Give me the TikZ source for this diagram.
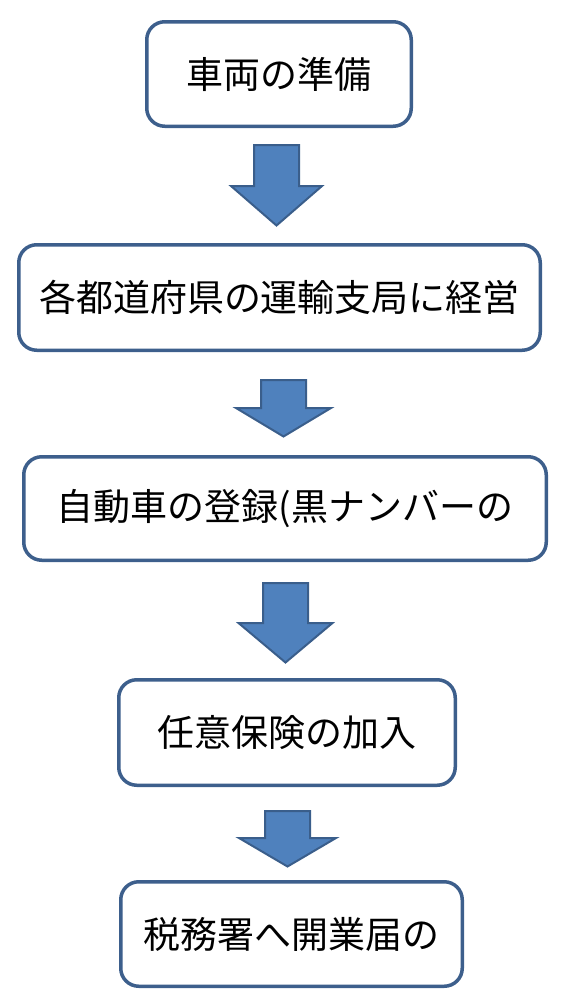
\documentclass[tikz,border=0pt]{standalone}
\usepackage{fontspec}
\setmainfont{Noto Sans CJK JP}
\usetikzlibrary{calc}

\definecolor{boxline}{RGB}{61,95,140}
\definecolor{arrowfill}{RGB}{79,129,189}
\definecolor{arrowline}{RGB}{58,94,139}

% block arrow between two steps:
% #1 upper node, #2 lower node, #3 x shift, #4 gap below #1, #5 gap above #2,
% #6 head length, #7 head half width
\newcommand{\flowarrow}[7]{%
  \draw[blockarrow] let \p1=($(#1.south)+(#3,#4)$), \p2=($(#2.north)+(#3,-#5)$) in
    (\x1-22.5pt,\y1) -- (\x1+22.5pt,\y1) -- (\x1+22.5pt,\y2+#6pt)
    -- (\x1+#7pt,\y2+#6pt) -- (\x1,\y2) -- (\x1-#7pt,\y2+#6pt)
    -- (\x1-22.5pt,\y2+#6pt) -- cycle;}

\begin{document}
\begin{tikzpicture}[
  x=1pt, y=-1pt,
  font=\fontsize{37}{43}\selectfont,
  stepbox/.style={rectangle, rounded corners=18pt, draw=boxline, line width=3.5pt,
                  fill=white, inner sep=0pt, align=center},
  blockarrow/.style={fill=arrowfill, draw=arrowline, line width=2pt, line join=miter},
]
\useasboundingbox (0,0) rectangle (562,1002);

% the five steps, top to bottom
\node[stepbox, minimum width=264.5pt, minimum height=104.5pt] (car)     at (279,74)     {車両の準備};
\node[stepbox, minimum width=521.5pt, minimum height=105.5pt] (office)  at (279.5,297.5) {各都道府県の運輸支局に経営};
\node[stepbox, minimum width=522.5pt, minimum height=103.5pt] (regist)  at (285,508.5)  {自動車の登録(黒ナンバーの};
\node[stepbox, minimum width=336.5pt, minimum height=105.5pt] (insure)  at (287,732.5)  {任意保険の加入};
\node[stepbox, minimum width=341.5pt, minimum height=104.5pt] (tax)     at (291.5,934)  {税務署へ開業届の};

% block arrows
\flowarrow{car}{office}{-2.5}{17}{17.5}{39.5}{45.5}
\flowarrow{office}{regist}{4}{28}{18.5}{28.5}{47.5}
\flowarrow{regist}{insure}{0.5}{21}{15.5}{39.5}{47}
\flowarrow{insure}{tax}{0.5}{24}{13.5}{28.5}{48.5}

\end{tikzpicture}
\end{document}
